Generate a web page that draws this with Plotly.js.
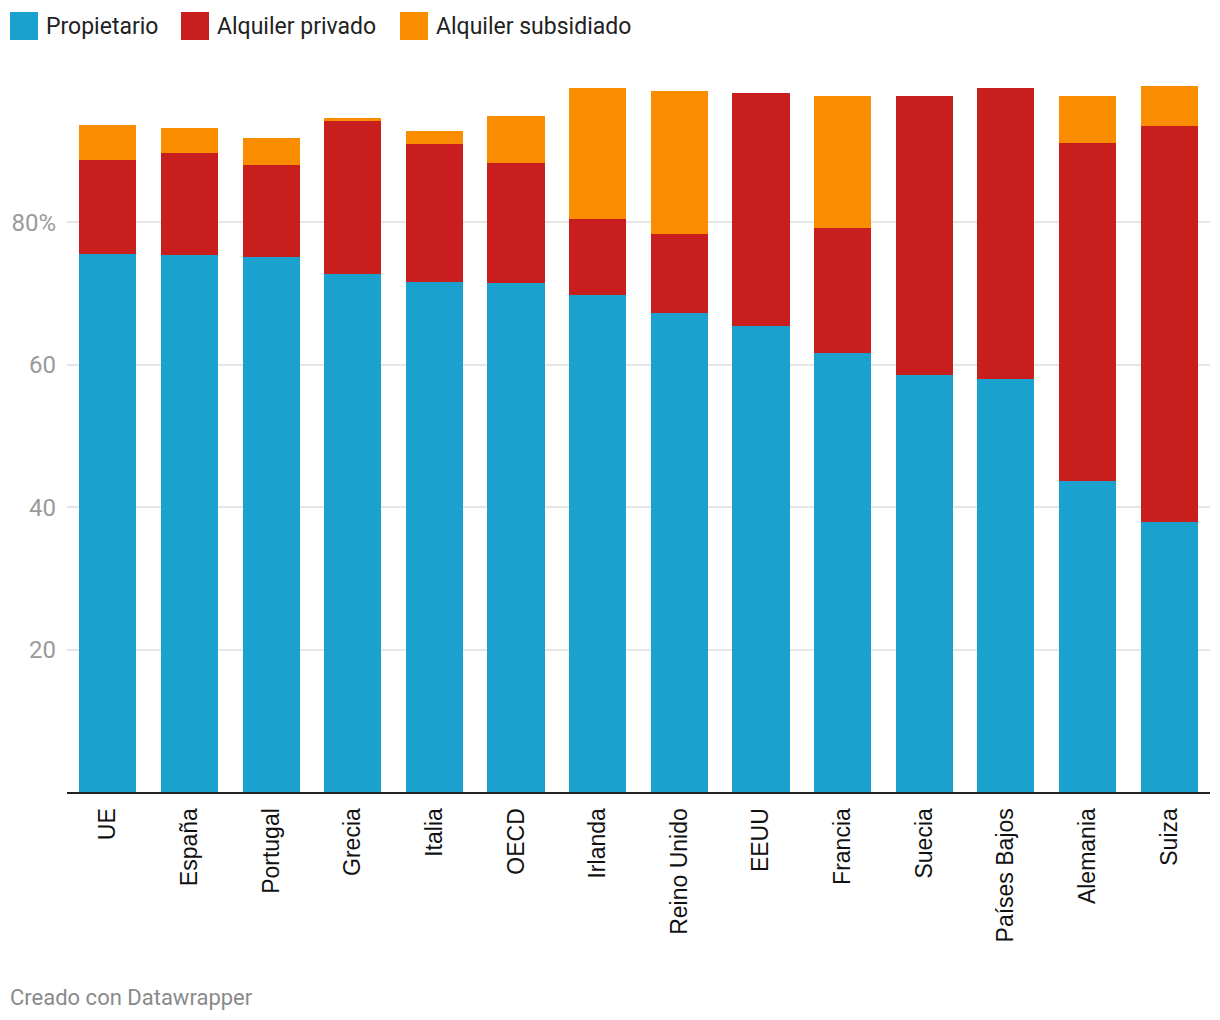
<!DOCTYPE html>
<html>
<head>
<meta charset="utf-8">
<script src="https://cdn.plot.ly/plotly-3.0.1.min.js"></script>
<style>html,body{margin:0;padding:0;background:#fff;}</style>
</head>
<body>
<div id="chart" style="width:1220px;height:1020px;"></div>
<script>
const categories = ["UE","España","Portugal","Grecia","Italia","OECD","Irlanda","Reino Unido","EEUU","Francia","Suecia","Países Bajos","Alemania","Suiza"];
const propietario = [75.6,75.4,75.2,72.8,71.7,71.5,69.8,67.3,65.5,61.7,58.5,58.0,43.7,37.9];
const alquilerPrivado = [13.1,14.4,12.8,21.5,19.3,16.9,10.7,11.1,32.7,17.5,39.3,40.9,47.5,55.7];
const alquilerSubsidiado = [5.0,3.4,3.9,0.4,1.9,6.6,18.4,20.1,0,18.6,0,0,6.6,5.6];
const seriesNames = ["Propietario","Alquiler privado","Alquiler subsidiado"];
const seriesColors = ["#1aa1ce","#c81e1e","#fa8c00"];
const yTickVals = [20,40,60,80];
const yTickText = ["20","40","60","80%"];

const W = 1220, H = 1020;
const M = {l:67, r:10, t:80, b:228};
const pw = W - M.l - M.r, ph = H - M.t - M.b;
const px = x => (x - M.l) / pw;
const py = y => (H - M.b - y) / ph;

const seriesData = [propietario, alquilerPrivado, alquilerSubsidiado];
const traces = seriesData.map((vals, i) => ({
  type: 'bar',
  x: categories,
  y: vals,
  name: seriesNames[i],
  marker: {color: seriesColors[i], line: {width: 0}},
  hoverinfo: 'x+y+name'
}));

// custom legend
const legendX = [10, 181, 400];
const shapes = [];
const annotations = [];
seriesNames.forEach((n, i) => {
  shapes.push({type:'rect', xref:'paper', yref:'paper',
    x0: px(legendX[i]), x1: px(legendX[i] + 28), y0: py(40), y1: py(12),
    fillcolor: seriesColors[i], line: {width: 0}});
  annotations.push({xref:'paper', yref:'paper', x: px(legendX[i] + 34), y: py(26),
    xanchor:'left', yanchor:'middle', showarrow:false, text: n,
    font: {family:'Roboto', size: 23, color:'#222222'}});
});
annotations.push({xref:'paper', yref:'paper', x: px(8), y: py(997),
  xanchor:'left', yanchor:'middle', showarrow:false, text:'Creado con Datawrapper',
  font: {family:'Roboto', size: 22, color:'#8a8a8a'}});

const layout = {
  width: W, height: H,
  margin: M,
  barmode: 'stack',
  bargap: 0.30,
  showlegend: false,
  plot_bgcolor: '#fff',
  paper_bgcolor: '#fff',
  xaxis: {
    type: 'category',
    tickangle: -90,
    tickfont: {family:'Liberation Sans, Arial', size: 23, color:'#111'},
    showline: true, linecolor:'#222', linewidth: 2,
    showgrid: false, ticks: '',
    ticklabelstandoff: 5,
    fixedrange: true
  },
  yaxis: {
    range: [0, 100],
    tickvals: yTickVals,
    ticktext: yTickText,
    tickfont: {family:'Roboto', size: 24, color:'#9a9a9a'},
    showgrid: true, gridcolor:'#e6e6e6', gridwidth: 2,
    zeroline: false, showline: false, ticks: '',
    ticklabelstandoff: 10,
    fixedrange: true
  },
  shapes: shapes,
  annotations: annotations,
  font: {family:'Roboto'}
};

Plotly.newPlot('chart', traces, layout, {displayModeBar:false, staticPlot:true});
</script>
</body>
</html>
